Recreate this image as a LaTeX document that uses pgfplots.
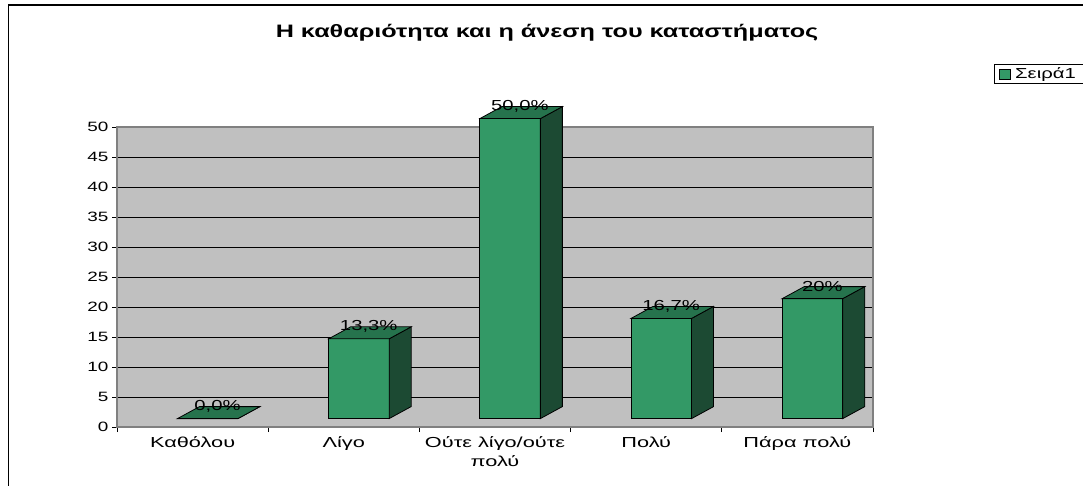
\documentclass[border=0pt]{standalone}
\usepackage{pgfplots}
\pgfplotsset{compat=1.18}
\usepackage{pgfplotstable}
\usepackage{fontspec}
\setmainfont{Liberation Sans}[FakeStretch=1.4]
\newfontfamily\catfont{Liberation Sans}[FakeStretch=1.5]
\definecolor{wall}{RGB}{192,192,192}
\definecolor{barfront}{RGB}{51,153,102}
\definecolor{barside}{RGB}{28,74,51}
\definecolor{bartop}{RGB}{38,115,77}
\definecolor{frame}{RGB}{128,128,128}

\pgfplotstableread{
x v lab
0 0 0,0\%
1 13.3 13,3\%
2 50 50,0\%
3 16.7 16,7\%
4 20 20\%
}\data

% 3D column: front face, right side, top; drawn at the bar's base point
\pgfdeclareplotmark{bar3d}{%
  \pgfmathsetlengthmacro\hh{\val*6pt}%
  \pgfsetlinewidth{0.8pt}%
  \pgfsetstrokecolor{black}%
  \pgfsetfillcolor{barfront}%
  \pgfpathrectanglecorners{\pgfpoint{-15.12pt}{0pt}}{\pgfpoint{45.36pt}{\hh}}%
  \pgfusepath{fill,stroke}%
  \pgfsetfillcolor{barside}%
  \pgfpathmoveto{\pgfpoint{45.36pt}{0pt}}%
  \pgfpathlineto{\pgfpoint{67.36pt}{12pt}}%
  \pgfpathlineto{\pgfpoint{67.36pt}{\hh+12pt}}%
  \pgfpathlineto{\pgfpoint{45.36pt}{\hh}}%
  \pgfpathclose
  \pgfusepath{fill,stroke}%
  \pgfsetfillcolor{bartop}%
  \pgfpathmoveto{\pgfpoint{-15.12pt}{\hh}}%
  \pgfpathlineto{\pgfpoint{45.36pt}{\hh}}%
  \pgfpathlineto{\pgfpoint{67.36pt}{\hh+12pt}}%
  \pgfpathlineto{\pgfpoint{6.88pt}{\hh+12pt}}%
  \pgfpathclose
  \pgfusepath{fill,stroke}%
}

\begin{document}
\begin{tikzpicture}[x=1pt,y=1pt]
\useasboundingbox (0,0) rectangle (1083,485);
\draw[line width=1.2pt] (8.5,-20) -- (8.5,480) -- (1100,480);
\node[font=\fontsize{18}{21}\selectfont\bfseries, anchor=base] at (547,447.7)
  {Η καθαριότητα και η άνεση του καταστήματος};
\begin{axis}[
  at={(117pt,58pt)}, anchor=south west, scale only axis,
  width=756pt, height=300pt,
  xmin=-0.5, xmax=4.5, ymin=0, ymax=50,
  clip=false,
  axis background/.style={fill=wall},
  axis line style={draw=frame, line width=1.5pt},
  ytick={0,5,...,50},
  ymajorgrids, major grid style={black, line width=0.8pt},
  xtick={-0.5,0.5,1.5,2.5,3.5,4.5},
  xticklabels={Καθόλου,Λίγο,{Ούτε λίγο/ούτε\\πολύ},Πολύ,Πάρα πολύ,{}},
  xticklabel style={xshift=75.6pt, yshift=-1.5pt, anchor=north, align=center,
    font=\catfont\fontsize{14.5}{19}\selectfont},
  yticklabel style={font=\fontsize{13.5}{16}\selectfont},
  /pgf/number format/assume math mode=true,
  tick align=outside, tick pos=left,
  major tick length=5pt,
  tick style={black, line width=1pt},
  legend style={at={(axis description cs:1.16,1.1433)}, anchor=south west,
    draw=black, line width=0.8pt, inner xsep=5pt, inner ysep=1.5pt,
    nodes={inner xsep=4pt},
    font=\fontsize{14.5}{17}\selectfont},
  legend cell align=left,
]
\addplot[scatter, only marks, mark=bar3d, forget plot,
  visualization depends on={\thisrow{v} \as \val}]
  table[x=x, y expr=1.4] {\data};
\addplot[draw=none, forget plot, nodes near coords,
  point meta=explicit symbolic,
  every node near coord/.style={anchor=center, font=\fontsize{14.5}{17}\selectfont, inner sep=0pt}]
  table[x expr=\thisrow{x}+0.165, y expr=\thisrow{v}+3.4, meta=lab] {\data};
\addlegendimage{legend image code/.code={\draw[fill=barfront, draw=black, line width=0.8pt] (0pt,-5pt) rectangle (11pt,5pt);}}
\addlegendentry{Σειρά1}
\end{axis}
\end{tikzpicture}
\end{document}
